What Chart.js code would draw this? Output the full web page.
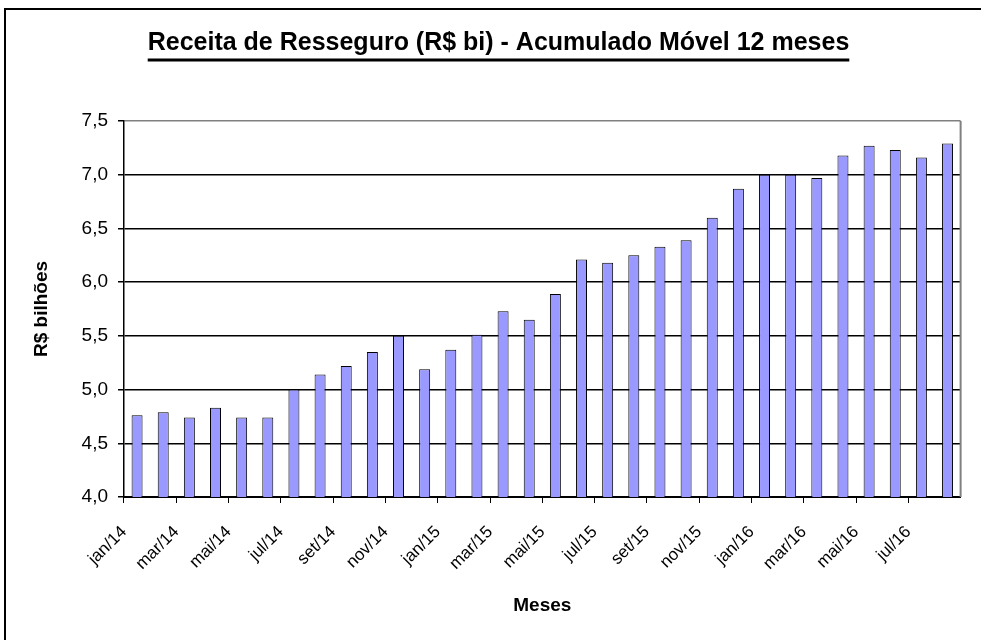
<!DOCTYPE html>
<html>
<head>
<meta charset="utf-8">
<script src="https://cdn.jsdelivr.net/npm/chart.js@4/dist/chart.umd.min.js"></script>
<style>
  html, body { margin: 0; padding: 0; background: #fff; }
  #wrap { position: relative; width: 981px; height: 640px; overflow: hidden; }
  #frame {
    position: absolute; left: 4px; top: 8px; width: 1200px; height: 900px;
    border-left: 2px solid #000; border-top: 2px solid #000; pointer-events: none;
  }
  canvas { position: absolute; left: 0; top: 0; }
</style>
</head>
<body>
<div id="wrap">
  <div id="frame"></div>
  <canvas id="chart" width="981" height="640"></canvas>
</div>
<script>
// ── Data ──────────────────────────────────────────────────────────────────────
const months = [
  'jan/14', 'fev/14', 'mar/14', 'abr/14', 'mai/14', 'jun/14', 'jul/14', 'ago/14',
  'set/14', 'out/14', 'nov/14', 'dez/14', 'jan/15', 'fev/15', 'mar/15', 'abr/15',
  'mai/15', 'jun/15', 'jul/15', 'ago/15', 'set/15', 'out/15', 'nov/15', 'dez/15',
  'jan/16', 'fev/16', 'mar/16', 'abr/16', 'mai/16', 'jun/16', 'jul/16', 'ago/16',
];
const receita = [
  4.76, 4.79, 4.74, 4.83, 4.74, 4.74, 5.00, 5.14,
  5.22, 5.35, 5.50, 5.19, 5.37, 5.51, 5.73, 5.65,
  5.89, 6.21, 6.18, 6.25, 6.33, 6.39, 6.60, 6.87,
  7.00, 7.00, 6.97, 7.18, 7.27, 7.23, 7.16, 7.29,
];
const yTicks = [4.0, 4.5, 5.0, 5.5, 6.0, 6.5, 7.0, 7.5];

const titleText = 'Receita de Resseguro (R$ bi) - Acumulado Móvel 12 meses';
const FONT = "'Liberation Sans', Arial, sans-serif";

// underline under the title + grey right edge of the plot area
const frameBits = {
  id: 'frameBits',
  afterDraw(chart) {
    const { ctx, chartArea, titleBlock } = chart;
    const t = titleBlock.options;
    const size = t.font.size;
    ctx.save();
    ctx.font = `bold ${size}px ${FONT}`;
    const w = ctx.measureText(titleText).width;
    const cx = (titleBlock.left + titleBlock.right) / 2;
    const mid = titleBlock.top + t.padding.top + size * 0.6;
    ctx.fillStyle = '#000';
    ctx.fillRect(cx - w / 2, mid + 15.5, w, 3);

    ctx.strokeStyle = '#808080';
    ctx.lineWidth = 2;
    ctx.beginPath();
    ctx.moveTo(chartArea.right, chartArea.top);
    ctx.lineTo(chartArea.right, chartArea.bottom);
    ctx.stroke();
    ctx.restore();
  },
};

new Chart(document.getElementById('chart'), {
  type: 'bar',
  data: {
    labels: months,
    datasets: [{
      data: receita,
      backgroundColor: '#9999ff',
      borderColor: '#000',
      borderWidth: 1,
      barPercentage: 0.42,
      categoryPercentage: 1,
    }],
  },
  options: {
    responsive: false,
    animation: false,
    devicePixelRatio: 1,
    layout: { padding: { left: 18, right: 2, top: 0, bottom: 0 } },
    plugins: {
      legend: { display: false },
      tooltip: { enabled: false },
      title: {
        display: true,
        text: titleText,
        color: '#000',
        font: { family: FONT, size: 25, weight: 'bold', lineHeight: 1.2 },
        padding: { top: 28, bottom: 63 },
      },
    },
    scales: {
      x: {
        offset: true,
        afterFit: (s) => { s.height = 143; },
        grid: {
          display: true,
          offset: true,
          drawOnChartArea: false,
          tickLength: 6,
          color: (c) => (c.index % 2 === 0 ? '#000' : 'rgba(0,0,0,0)'),
        },
        border: { display: true, color: '#000', width: 2 },
        ticks: {
          autoSkip: false,
          minRotation: 45,
          maxRotation: 45,
          padding: 19,
          labelOffset: -13,
          color: '#000',
          font: { family: FONT, size: 17 },
          callback: (v, i) => (i % 2 === 0 ? months[i] : ''),
        },
        title: {
          display: true,
          text: 'Meses',
          color: '#000',
          font: { family: FONT, size: 19, weight: 'bold' },
          padding: { top: 0, bottom: 23 },
        },
      },
      y: {
        min: 4,
        max: 7.5,
        afterFit: (s) => { s.width = 106; },
        afterBuildTicks: (s) => { s.ticks = yTicks.map((v) => ({ value: v })); },
        grid: {
          color: (c) => (c.tick && c.tick.value === 7.5 ? '#808080' : '#000'),
          tickColor: '#000',
          lineWidth: 1.5,
          tickLength: 6,
        },
        border: { display: true, color: '#000', width: 1.5 },
        ticks: {
          padding: 10,
          color: '#000',
          font: { family: FONT, size: 19 },
          callback: (v) => v.toFixed(1).replace('.', ','),
        },
        title: {
          display: true,
          text: 'R$ bilhões',
          color: '#000',
          font: { family: FONT, size: 19, weight: 'bold' },
          padding: { top: 12, bottom: 0 },
        },
      },
    },
  },
  plugins: [frameBits],
});
</script>
</body>
</html>
